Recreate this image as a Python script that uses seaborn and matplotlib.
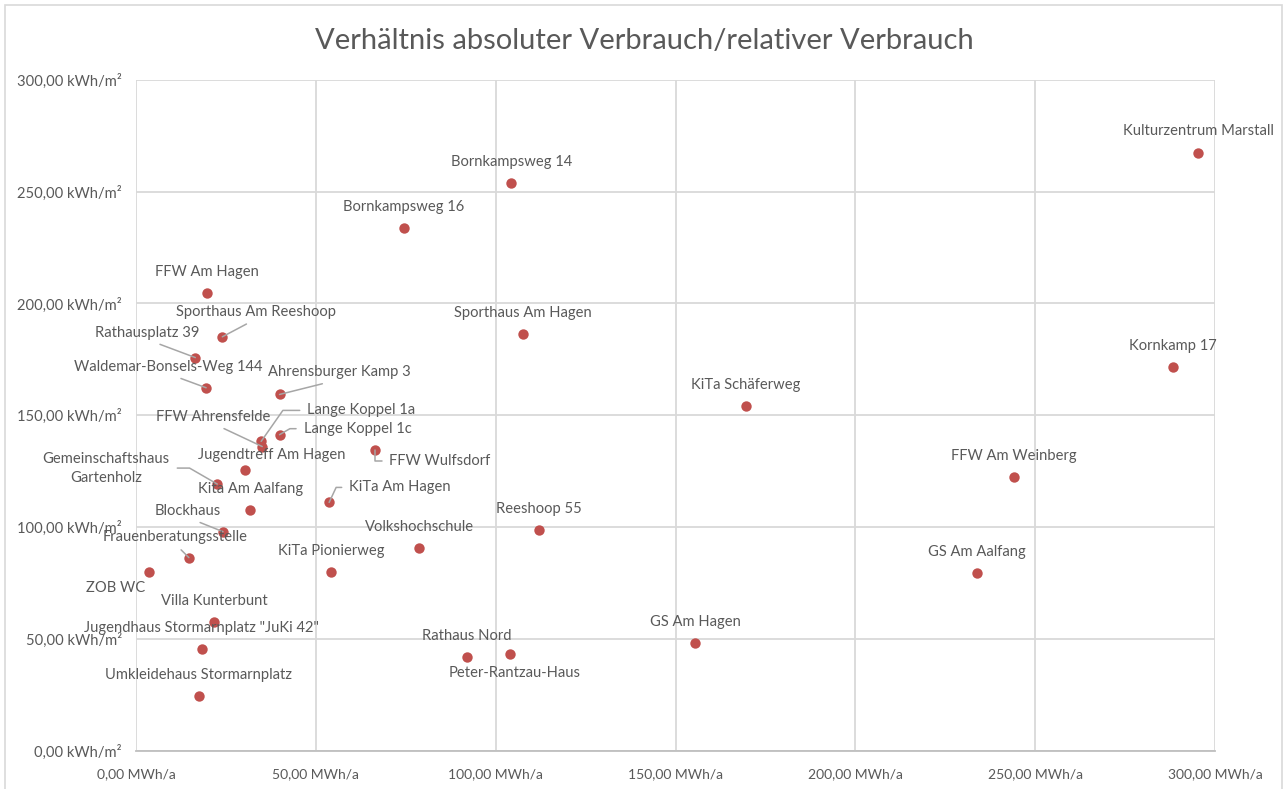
import matplotlib
matplotlib.use("Agg")
import matplotlib.pyplot as plt
import seaborn as sns
import pandas as pd
from matplotlib.ticker import FuncFormatter, MultipleLocator
from matplotlib.patches import Rectangle

# --- data ---
names = [
    "Kulturzentrum Marstall", "Kornkamp 17", "FFW Am Weinberg", "GS Am Aalfang",
    "KiTa Schäferweg", "GS Am Hagen", "Bornkampsweg 14", "Bornkampsweg 16",
    "Sporthaus Am Hagen", "Reeshoop 55", "Volkshochschule", "Rathaus Nord",
    "Peter-Rantzau-Haus", "FFW Wulfsdorf", "KiTa Am Hagen", "KiTa Pionierweg",
    "FFW Am Hagen", "Sporthaus Am Reeshoop", "Rathausplatz 39",
    "Waldemar-Bonsels-Weg 144", "Ahrensburger Kamp 3", "Lange Koppel 1a",
    "Lange Koppel 1c", "FFW Ahrensfelde", "Jugendtreff Am Hagen",
    "Gemeinschaftshaus\nGartenholz", "Kita Am Aalfang", "Blockhaus",
    "Frauenberatungsstelle", "ZOB WC", "Villa Kunterbunt",
    'Jugendhaus Stormarnplatz "JuKi 42"', "Umkleidehaus Stormarnplatz",
]
absolute_mwh = [
    295.3, 288.4, 244.0, 233.8, 169.6, 155.5, 104.3, 74.5,
    107.6, 112.1, 78.7, 92.0, 104.1, 66.5, 53.7, 54.2,
    19.8, 24.0, 16.5, 19.5, 39.9, 34.8, 39.9, 35.1, 30.2,
    22.6, 31.8, 24.2, 14.7, 3.6, 21.7, 18.3, 17.5,
]
relative_kwh = [
    267.2, 171.5, 122.5, 79.6, 154.2, 48.1, 253.9, 233.8,
    186.5, 98.8, 90.7, 42.0, 43.2, 134.3, 111.0, 80.0,
    204.9, 185.1, 175.8, 162.3, 159.3, 138.3, 141.3, 136.0, 125.6,
    119.2, 107.4, 97.9, 86.3, 80.0, 57.7, 45.6, 24.6,
]

# label placement: name -> (dx px, dy px, ha, leader relpos or None, connectionstyle)
label_pos = {
    "Kulturzentrum Marstall": (0, 22, "center", None, None),
    "Peter-Rantzau-Haus": (4, -19, "center", None, None),
    "ZOB WC": (-33, -16, "center", None, None),
    "FFW Wulfsdorf": (14, -11, "left", (0, 0.5), "angle,angleA=0,angleB=90,rad=0"),
    "KiTa Am Hagen": (20, 15, "left", (0, 0.5), "angle,angleA=0,angleB=65,rad=0"),
    "Lange Koppel 1a": (46, 31, "left", (0, 0.5), "angle,angleA=0,angleB=55,rad=0"),
    "Lange Koppel 1c": (24, 6, "left", (0, 0.5), "angle,angleA=0,angleB=30,rad=0"),
    "FFW Ahrensfelde": (-49, 30, "center", (0.5, 0), None),
    "Ahrensburger Kamp 3": (60, 22, "center", (0.5, 0), None),
    "Sporthaus Am Reeshoop": (34, 25, "center", (0.5, 0), None),
    "Rathausplatz 39": (-48, 25, "center", (0.5, 0), None),
    "Waldemar-Bonsels-Weg 144": (-38, 21, "center", (0.5, 0), None),
    "Gemeinschaftshaus\nGartenholz": (-111, 16, "center", (1, 0.5), "angle,angleA=0,angleB=-30,rad=0"),
    "Jugendtreff Am Hagen": (27, 15, "center", None, None),
    "Blockhaus": (-35, 21, "center", (0.5, 0), None),
    "Frauenberatungsstelle": (-14, 21, "center", (0.5, 0), None),
}

df = pd.DataFrame({"name": names, "abs": absolute_mwh, "rel": relative_kwh})

sns.set_style("white")
plt.rcParams["font.family"] = ["Lato", "DejaVu Sans"]

text_col = "#595959"
grid_col = "#d9d9d9"
dot_col = "#c0504d"

fig = plt.figure(figsize=(12.88, 7.89), dpi=100)
ax = fig.add_axes([136 / 1288, 1 - 750.5 / 789, (1215 - 136) / 1288, (750.5 - 80) / 789])

sns.scatterplot(data=df, x="abs", y="rel", ax=ax, color=dot_col, s=56,
                linewidth=0, zorder=3, legend=False)

ax.set_xlim(0, 300)
ax.set_ylim(0, 300)
ax.xaxis.set_major_locator(MultipleLocator(50))
ax.yaxis.set_major_locator(MultipleLocator(50))
ax.xaxis.set_major_formatter(FuncFormatter(lambda v, p: f"{v:.2f}".replace(".", ",") + " MWh/a"))
ax.yaxis.set_major_formatter(FuncFormatter(lambda v, p: f"{v:.2f}".replace(".", ",") + " kWh/m²"))
ax.grid(True, color=grid_col, linewidth=1.3)
ax.set_axisbelow(True)
for side in ["top", "right", "left"]:
    ax.spines[side].set_visible(False)
ax.spines["bottom"].set_color("#bfbfbf")
ax.spines["bottom"].set_linewidth(1.3)
ax.tick_params(axis="both", length=0, labelcolor=text_col)
ax.tick_params(axis="x", pad=13, labelsize=10)
ax.tick_params(axis="y", pad=10, labelsize=10.6)
ax.set_xlabel("")
ax.set_ylabel("")

for name, xv, yv in zip(names, absolute_mwh, relative_kwh):
    dx, dy, ha, relpos, conn = label_pos.get(name, (0, 21, "center", None, None))
    kw = {}
    if relpos is not None:
        kw["arrowprops"] = dict(arrowstyle="-", color="#a6a6a6", lw=1.1,
                                relpos=relpos, shrinkA=3, shrinkB=0,
                                connectionstyle=conn or "arc3")
    ax.annotate(name, (xv, yv), xytext=(dx, dy), textcoords="offset pixels",
                ha=ha, va="center", fontsize=10.6, color=text_col,
                linespacing=1.45, zorder=4, **kw)

fig.text(0.5, 1 - 41 / 789, "Verhältnis absoluter Verbrauch/relativer Verbrauch",
         ha="center", va="center", fontsize=21, color=text_col)

fig.patches.append(Rectangle((5 / 1288, -0.01), 1277 / 1288, 1.0 - 5 / 789 + 0.01,
                             transform=fig.transFigure, fill=False,
                             edgecolor=grid_col, linewidth=1.2))

fig.savefig("out.png", dpi=100)
